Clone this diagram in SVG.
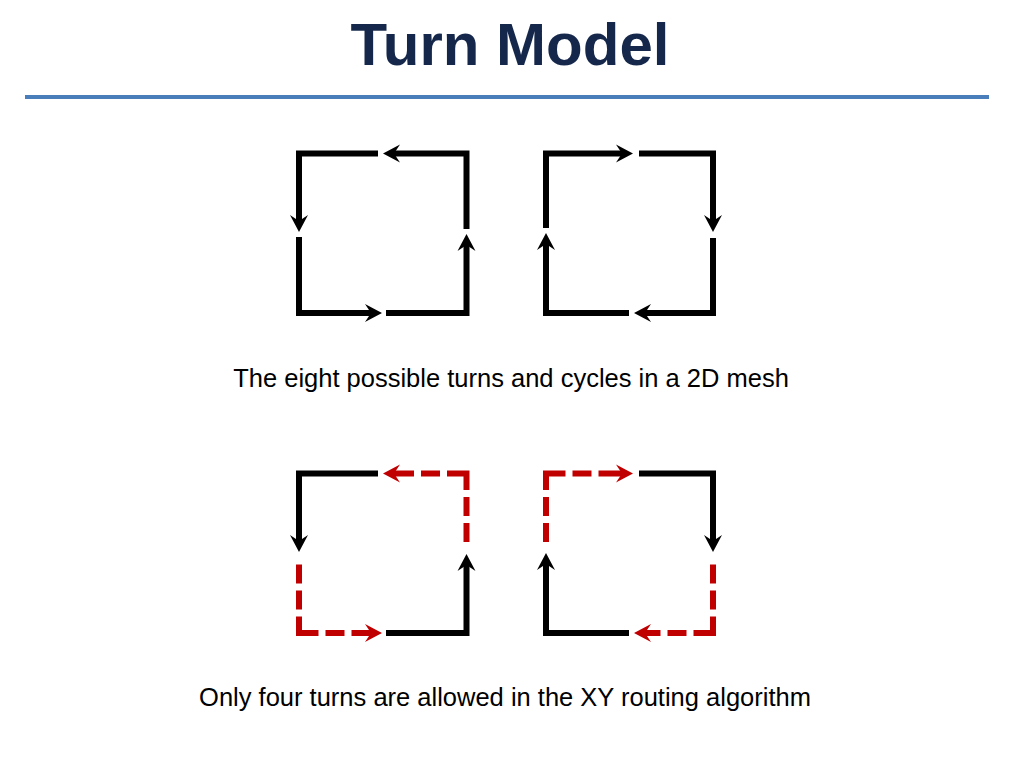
<svg xmlns="http://www.w3.org/2000/svg" width="1024" height="768" viewBox="0 0 1024 768">
<style>
.title{font-family:"Liberation Sans",Arial,sans-serif;font-weight:bold;font-size:60px;fill:#15274A;}
.cap{font-family:"Liberation Sans",Arial,sans-serif;font-size:25.5px;fill:#000;}
.blk{fill:none;stroke:#000;stroke-width:6;stroke-linejoin:miter;stroke-linecap:butt;marker-end:url(#ab);}
.red{fill:none;stroke:#C00000;stroke-width:6;stroke-linejoin:miter;stroke-linecap:butt;stroke-dasharray:19 7 19 7 36 7 19 7 60;marker-end:url(#ar);}
</style>
<defs>
<marker id="ab" markerUnits="userSpaceOnUse" markerWidth="20" markerHeight="20" viewBox="0 -10 20 20" refX="6" refY="0" orient="auto">
<path d="M0,-9 L17,0 L0,9 L6,0 Z" fill="#000"/>
</marker>
<marker id="ar" markerUnits="userSpaceOnUse" markerWidth="20" markerHeight="20" viewBox="0 -10 20 20" refX="6" refY="0" orient="auto">
<path d="M0,-9 L17,0 L0,9 L6,0 Z" fill="#C00000"/>
</marker>
</defs>
<rect width="1024" height="768" fill="#fff"/>
<g id="header">
<text class="title" x="510" y="65" text-anchor="middle">Turn Model</text>
<line x1="25" y1="97" x2="989" y2="97" stroke="#4A7EBB" stroke-width="4"/>
</g>
<g id="connectors">
<g id="cycle-top-left">
<path class="blk" d="M378,153.5 H299 V221"/>
<path class="blk" d="M466.5,229 V153.5 H394"/>
<path class="blk" d="M299,237 V313 H371"/>
<path class="blk" d="M386,313 H466.5 V245"/>
</g>
<g id="cycle-top-right">
<path class="blk" d="M546,228 V153.5 H622"/>
<path class="blk" d="M639,153.5 H713 V221"/>
<path class="blk" d="M713,238 V313 H645"/>
<path class="blk" d="M629,313 H546 V244"/>
</g>
<g id="cycle-bottom-left">
<path class="blk" d="M378,473.5 H299 V541"/>
<path class="red" d="M466.5,542 V473.5 H394"/>
<path class="red" d="M299,564.5 V633 H371"/>
<path class="blk" d="M386,633 H466.5 V565"/>
</g>
<g id="cycle-bottom-right">
<path class="red" d="M546,542 V473.5 H622"/>
<path class="blk" d="M639,473.5 H713 V541"/>
<path class="red" d="M713,564.5 V633 H645"/>
<path class="blk" d="M629,633 H546 V564"/>
</g>
</g>
<g id="caption-top">
<text class="cap" x="511" y="387" text-anchor="middle">The eight possible turns and cycles in a 2D mesh</text>
</g>
<g id="caption-bottom">
<text class="cap" x="505" y="706" text-anchor="middle">Only four turns are allowed in the XY routing algorithm</text>
</g>
</svg>
